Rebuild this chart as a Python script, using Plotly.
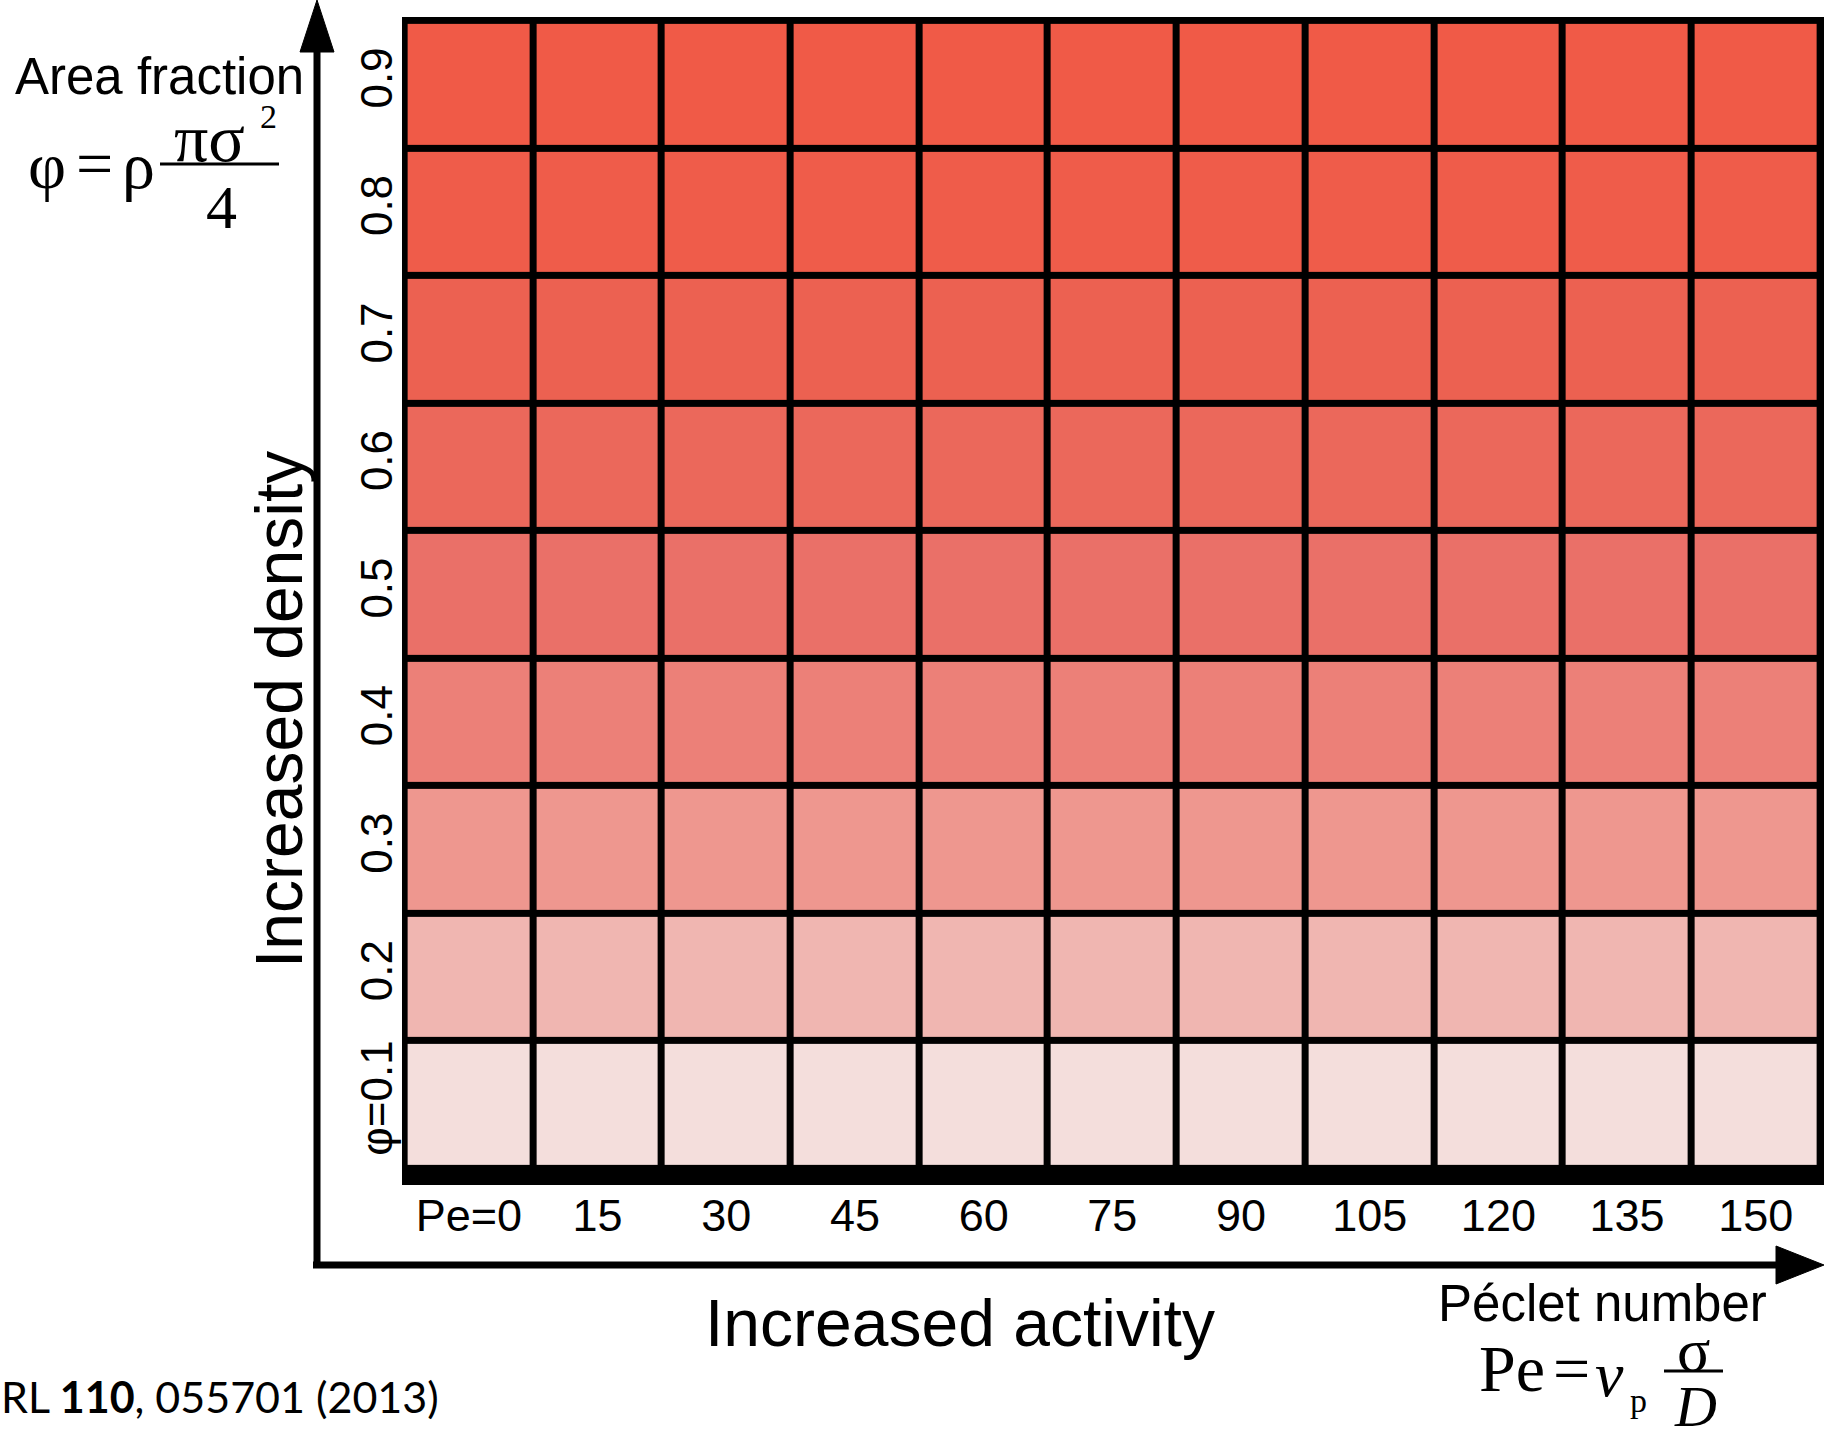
import plotly.graph_objects as go

# ---- data ----
peclet = [0, 15, 30, 45, 60, 75, 90, 105, 120, 135, 150]
pe_labels = ["Pe=0", "15", "30", "45", "60", "75", "90", "105", "120", "135", "150"]
phi = [0.1, 0.2, 0.3, 0.4, 0.5, 0.6, 0.7, 0.8, 0.9]
phi_labels = ["φ=0.1", "0.2", "0.3", "0.4", "0.5", "0.6", "0.7", "0.8", "0.9"]
# snapshot tint read per density row (light -> dense)
row_colors = ["#F4DEDC", "#F0B6B1", "#EE978F", "#EC8078", "#EA7068",
              "#EB685B", "#EC6151", "#EF5C4A", "#F05A47"]

W, H = 1824, 1440
def px(x): return x / W
def py(y): return 1 - y / H

z = [[p for _ in peclet] for p in phi]
zmin, zmax = min(phi), max(phi)
colorscale = [[(p - zmin) / (zmax - zmin), c] for p, c in zip(phi, row_colors)]

fig = go.Figure(go.Heatmap(
    z=z, x=list(range(len(peclet))), y=list(range(len(phi))),
    colorscale=colorscale, zmin=zmin, zmax=zmax, showscale=False,
    xgap=7, ygap=7, hoverinfo="skip"))

SANS = "Liberation Sans, Arial, sans-serif"
SERIF = "Liberation Serif, Times New Roman, serif"

fig.update_layout(
    width=W, height=H, margin=dict(l=0, r=0, t=0, b=0),
    paper_bgcolor="white", plot_bgcolor="black", showlegend=False,
    xaxis=dict(domain=[px(402), 1], range=[-0.52, 10.53],
               tickvals=list(range(len(peclet))), ticktext=pe_labels,
               tickfont=dict(family=SANS, size=45, color="black"),
               showgrid=False, zeroline=False, ticks="", showline=False,
               fixedrange=True),
    yaxis=dict(domain=[py(1185), py(17)], range=[-0.63, 8.53],
               tickvals=list(range(len(phi))), ticktext=phi_labels,
               tickangle=-90,
               tickfont=dict(family=SANS, size=44, color="black"),
               showgrid=False, zeroline=False, ticks="", showline=False,
               fixedrange=True),
)

shapes = []
# vertical arrow
shapes.append(dict(type="line", xref="paper", yref="paper",
                   x0=px(317), x1=px(317), y0=py(48), y1=py(1268),
                   line=dict(color="black", width=7)))
shapes.append(dict(type="path", xref="paper", yref="paper",
                   path=f"M {px(300)},{py(52)} L {px(334)},{py(52)} L {px(317)},{py(0)} Z",
                   fillcolor="black", line=dict(color="black", width=1)))
# horizontal arrow
shapes.append(dict(type="line", xref="paper", yref="paper",
                   x0=px(313), x1=px(1780), y0=py(1265), y1=py(1265),
                   line=dict(color="black", width=7)))
shapes.append(dict(type="path", xref="paper", yref="paper",
                   path=f"M {px(1776)},{py(1246)} L {px(1776)},{py(1284)} L {px(1824)},{py(1265)} Z",
                   fillcolor="black", line=dict(color="black", width=1)))
# fraction bars
shapes.append(dict(type="line", xref="paper", yref="paper",
                   x0=px(160), x1=px(279), y0=py(164), y1=py(164),
                   line=dict(color="black", width=3)))
shapes.append(dict(type="line", xref="paper", yref="paper",
                   x0=px(1664), x1=px(1723), y0=py(1371), y1=py(1371),
                   line=dict(color="black", width=3)))
fig.update_layout(shapes=shapes)

def ann(text, x, y, size, family=SANS, angle=0, xanchor="center"):
    return dict(text=text, x=px(x), y=py(y), xref="paper", yref="paper",
                showarrow=False, textangle=angle, xanchor=xanchor, yanchor="middle",
                borderpad=0,
                font=dict(family=family, size=size, color="black"))

annotations = [
    ann("Increased density", 279, 710, 66, angle=-90),
    ann("Increased activity", 960, 1323, 66),
    ann("Area fraction", 159, 76, 51),
    ann("φ", 47, 165, 66, family=SERIF),
    ann("=", 94, 163, 66, family=SERIF),
    ann("ρ", 138, 165, 66, family=SERIF),
    ann("πσ", 209, 138, 68, family=SERIF),
    ann("2", 268, 116, 34, family=SERIF),
    ann("4", 221, 207, 62, family=SERIF),
    ann("Péclet number", 1602, 1303, 51),
    ann("Pe", 1512, 1368, 66, family=SERIF),
    ann("=", 1571, 1368, 66, family=SERIF),
    ann("<i>v</i>", 1609, 1374, 64, family=SERIF),
    ann("p", 1638, 1400, 34, family=SERIF),
    ann("σ", 1693, 1350, 62, family=SERIF),
    ann("<i>D</i>", 1695, 1406, 58, family=SERIF),
    ann("RL <b>110</b>, 055701 (2013)", 0, 1396, 43, family="Lato, Carlito, sans-serif",
        xanchor="left"),
]
fig.update_layout(annotations=annotations)

fig.write_html("out.html")
